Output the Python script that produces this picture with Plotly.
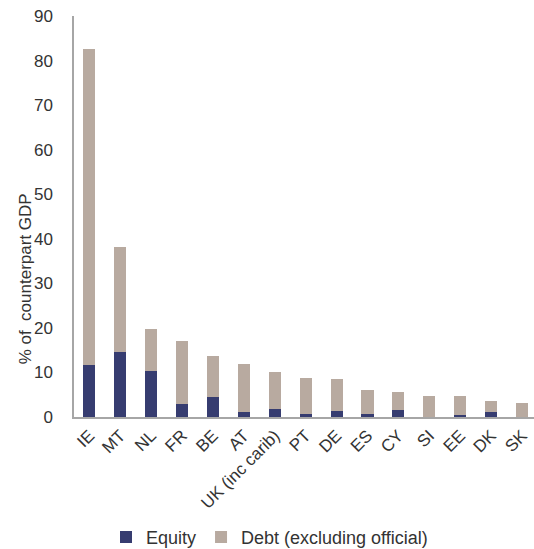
import plotly.graph_objects as go

countries = ["IE", "MT", "NL", "FR", "BE", "AT", "UK (inc carib)", "PT", "DE",
             "ES", "CY", "SI", "EE", "DK", "SK"]
equity = [11.6, 14.6, 10.3, 3.0, 4.4, 1.2, 1.7, 0.6, 1.35, 0.6, 1.6, 0.0, 0.4, 1.05, 0.0]
total = [82.6, 38.2, 19.8, 17.0, 13.6, 12.0, 10.0, 8.8, 8.6, 6.0, 5.6, 4.7, 4.7, 3.5, 3.2]
debt = [round(t - e, 2) for t, e in zip(total, equity)]

font_col = "#333333"
font_fam = "Liberation Sans, Arial, sans-serif"

fig = go.Figure(data=[
    go.Bar(x=countries, y=equity, name="Equity", marker=dict(color="#363C70", line=dict(width=0))),
    go.Bar(x=countries, y=debt, name="Debt (excluding official)",
           marker=dict(color="#B8AAA0", line=dict(width=0))),
])

fig.update_layout(
    barmode="stack",
    bargap=0.61,
    width=534, height=549,
    margin=dict(l=74, r=0, t=16, b=132, autoexpand=False),
    paper_bgcolor="white",
    plot_bgcolor="white",
    font=dict(family=font_fam, size=17, color=font_col),
    showlegend=True,
    legend=dict(orientation="h", x=0.425, xanchor="center", y=-0.3, yanchor="middle",
                font=dict(size=18, color=font_col), itemwidth=30, traceorder="normal",
                tracegroupgap=0),
)

fig.update_xaxes(
    range=[-0.5, 14.39],
    tickangle=-45,
    showline=True, linecolor="#A6A6A6", linewidth=2,
    ticks="", showgrid=False,
    tickfont=dict(size=17, color=font_col),
)

fig.update_yaxes(
    range=[0, 90], dtick=10,
    showline=True, linecolor="#A6A6A6", linewidth=1.5,
    showgrid=False, zeroline=False, ticks="",
    ticklabelstandoff=16,
    tickfont=dict(size=17, color=font_col),
)

# axis title sits below the middle of the axis in the original
fig.add_annotation(
    text="% of&nbsp;&nbsp;counterpart GDP", textangle=-90,
    xref="paper", yref="paper", x=-0.105, y=0.345,
    xanchor="center", yanchor="middle", showarrow=False,
    font=dict(size=17, color=font_col, family=font_fam),
)

# drop the default body margin so the figure fills the window exactly
fig.write_html("out.html", config={"displayModeBar": False},
               post_script="document.body.style.margin='0';document.body.style.overflow='hidden';")
